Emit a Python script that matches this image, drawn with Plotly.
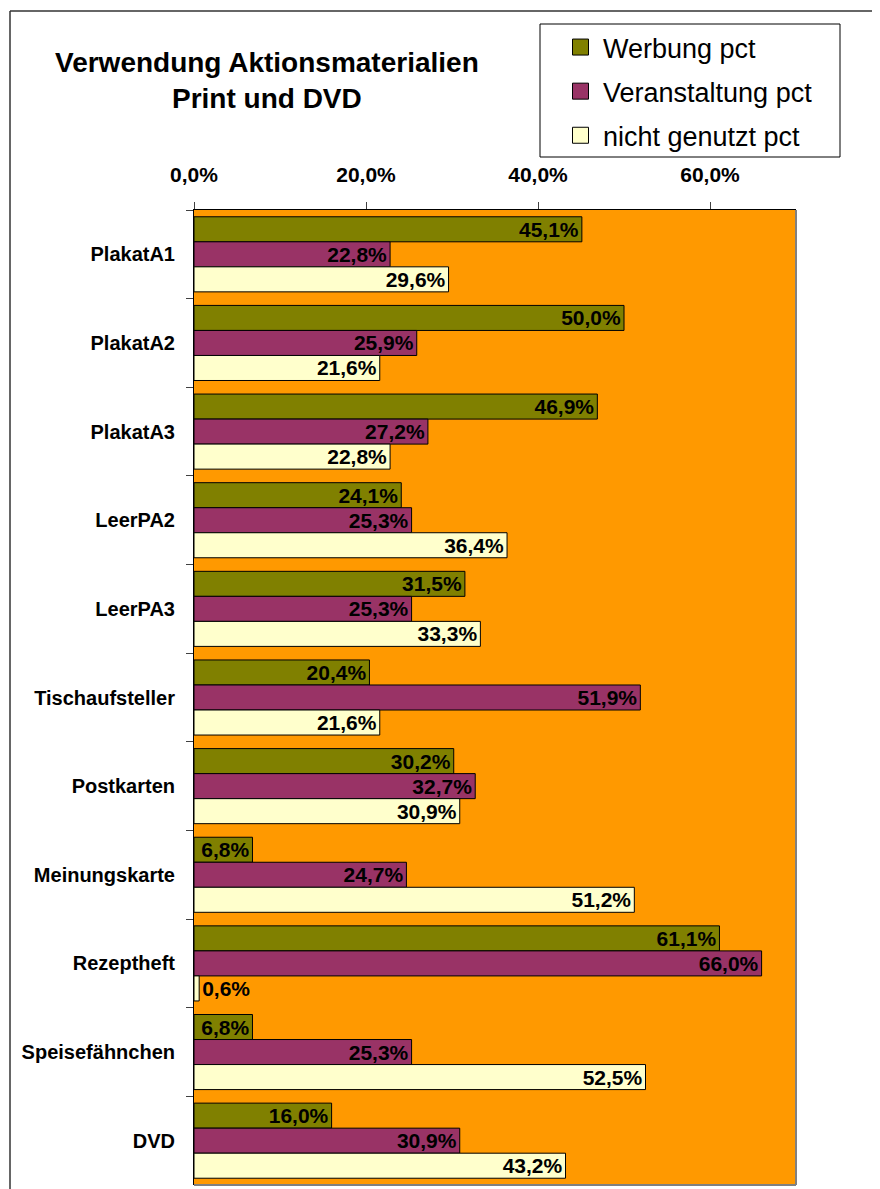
import plotly.graph_objects as go

categories = ["PlakatA1", "PlakatA2", "PlakatA3", "LeerPA2", "LeerPA3", "Tischaufsteller",
              "Postkarten", "Meinungskarte", "Rezeptheft", "Speisefähnchen", "DVD"]
werbung = [45.1, 50.0, 46.9, 24.1, 31.5, 20.4, 30.2, 6.8, 61.1, 6.8, 16.0]
veranstaltung = [22.8, 25.9, 27.2, 25.3, 25.3, 51.9, 32.7, 24.7, 66.0, 25.3, 30.9]
nicht_genutzt = [29.6, 21.6, 22.8, 36.4, 33.3, 21.6, 30.9, 51.2, 0.6, 52.5, 43.2]
series_names = ["Werbung pct", "Veranstaltung pct", "nicht genutzt pct"]
colors = ["#808000", "#993366", "#FFFFCC"]
tick_vals = [0, 20, 40, 60]
tick_text = [f"{v:.1f}%".replace(".", ",") for v in tick_vals]

FONT = "Liberation Sans"
OFF = 8  # page body margin
W, H = 880 - OFF, 1189 - OFF
# plot area in screen (reference) pixels
PL, PR, PT, PB = 194, 796, 210, 1185
L, R, T, B = PL - OFF, W - (PR - OFF), PT - OFF, H - (PB - OFF)
pw, ph = PR - PL, PB - PT


def px(x):
    return (x - PL) / pw


def py(y):
    return (PB - y) / ph


fig = go.Figure()
for name, vals, col in zip(series_names, [werbung, veranstaltung, nicht_genutzt], colors):
    fig.add_trace(go.Bar(
        y=categories, x=vals, orientation="h", name=name,
        marker=dict(color=col, line=dict(color="black", width=1)),
        texttemplate="%{x:.1f}%", textposition="auto", insidetextanchor="end",
        constraintext="none",
        insidetextfont=dict(family=FONT, size=21, color="black", weight="bold"),
        outsidetextfont=dict(family=FONT, size=21, color="black", weight="bold"),
        showlegend=False, cliponaxis=False,
    ))
    fig.add_trace(go.Scatter(
        x=[None], y=[None], mode="markers", name=name, legendgroup=name,
        marker=dict(symbol="square", size=16, color=col, line=dict(color="black", width=1)),
        showlegend=True,
    ))

fig.update_layout(
    width=W, height=H, autosize=False,
    margin=dict(l=L, r=R, t=T, b=B, pad=0),
    paper_bgcolor="white", plot_bgcolor="#FF9900",
    separators=",.",
    barmode="group", bargap=0.153, bargroupgap=0,
    font=dict(family=FONT, color="black"),
    legend=dict(
        x=px(558), y=py(23), xanchor="left", yanchor="top",
        borderwidth=0, bgcolor="rgba(0,0,0,0)",
        font=dict(family=FONT, size=27, color="black"),
        traceorder="grouped", tracegroupgap=6, itemsizing="trace", itemwidth=35,
    ),
    xaxis=dict(
        side="top", range=[0, 70], tickvals=tick_vals, ticktext=tick_text,
        showgrid=False, zeroline=False, showline=True, linecolor="black", linewidth=1,
        ticks="outside", ticklen=7, tickcolor="#404040", tickwidth=1,
        tickfont=dict(family=FONT, size=21, color="black", weight="bold"),
        ticklabelstandoff=12,
    ),
    yaxis=dict(
        autorange="reversed", showgrid=False, zeroline=False,
        showline=True, linecolor="black", linewidth=1,
        ticks="outside", tickson="boundaries", ticklen=7, tickcolor="#404040",
        tickfont=dict(family=FONT, size=20, color="black", weight="bold"),
        ticklabelstandoff=14,
    ),
    annotations=[dict(
        text="Verwendung Aktionsmaterialien<br>Print und DVD",
        xref="paper", yref="paper", x=px(267), y=py(80), xanchor="center", yanchor="middle",
        showarrow=False, align="center",
        font=dict(family=FONT, size=28, color="black", weight="bold"),
    )],
    shapes=[
        dict(type="line", xref="paper", yref="paper", x0=px(10), x1=px(890), y0=py(11), y1=py(11),
             line=dict(color="#333333", width=1.5)),
        dict(type="line", xref="paper", yref="paper", x0=px(10), x1=px(10), y0=py(11), y1=py(1200),
             line=dict(color="#333333", width=1.5)),
        dict(type="line", xref="paper", yref="paper", x0=1, x1=1, y0=0, y1=1,
             line=dict(color="#808080", width=2)),
        dict(type="line", xref="paper", yref="paper", x0=0, x1=1, y0=0, y1=0,
             line=dict(color="#808080", width=2)),
        dict(type="rect", xref="paper", yref="paper", x0=px(540), x1=px(840), y0=py(24), y1=py(157),
             line=dict(color="black", width=1), fillcolor="white", layer="below"),
    ],
)

fig.write_html("out.html")
